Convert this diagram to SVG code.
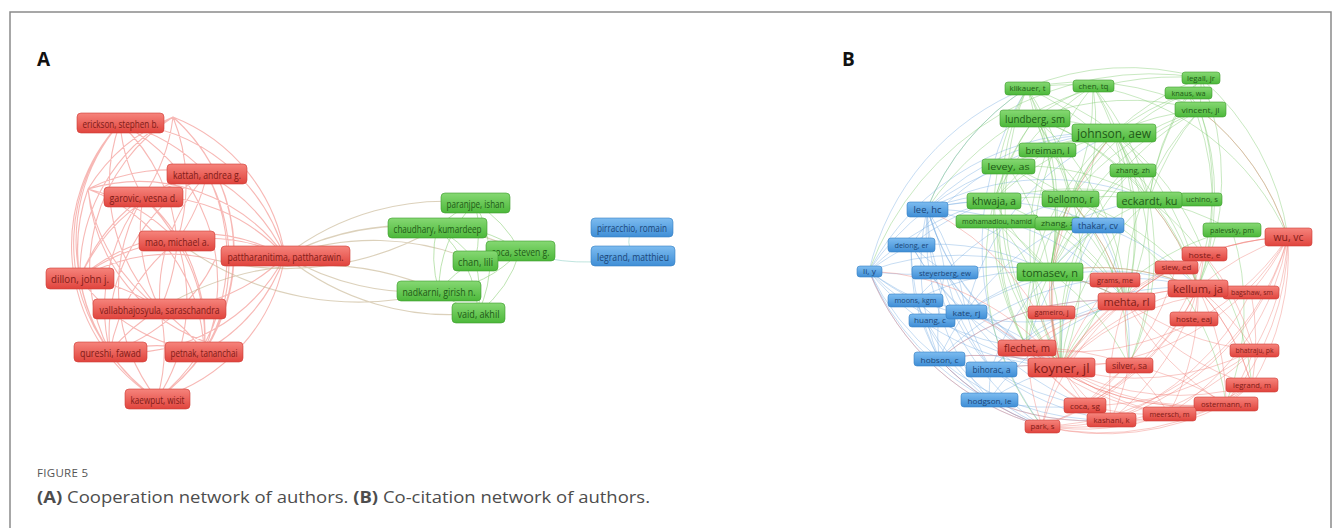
<svg xmlns="http://www.w3.org/2000/svg" width="1336" height="528" viewBox="0 0 1336 528">
<defs>
<linearGradient id="gr" x1="0" y1="0" x2="0" y2="1"><stop offset="0" stop-color="#f6847c"/><stop offset="1" stop-color="#e0443d"/></linearGradient>
<linearGradient id="gg" x1="0" y1="0" x2="0" y2="1"><stop offset="0" stop-color="#86d873"/><stop offset="1" stop-color="#4cb83a"/></linearGradient>
<linearGradient id="gb" x1="0" y1="0" x2="0" y2="1"><stop offset="0" stop-color="#7dbcf0"/><stop offset="1" stop-color="#3f8ed6"/></linearGradient>
</defs>
<style>
text{font-family:"Open Sans","Liberation Sans",sans-serif}
.node text{text-anchor:middle;dominant-baseline:central}
.red rect{fill:url(#gr);stroke:#cf3d37;stroke-width:.6}
.red text{fill:#801b17}
.green rect{fill:url(#gg);stroke:#3d9c2e;stroke-width:.6}
.green text{fill:#1f5a17}
.blue rect{fill:url(#gb);stroke:#367fc2;stroke-width:.6}
.blue text{fill:#1b4678}
.a text{font-size:11px}
.e{fill:none}
.er{stroke:#f07d78;stroke-width:1.1;stroke-opacity:.55}
.eo{stroke:#c4b38e;stroke-width:1.1;stroke-opacity:.6}
.eg{stroke:#92d27f;stroke-width:1;stroke-opacity:.6}
.et{stroke:#a4d8d0;stroke-width:1;stroke-opacity:.7}
.bb{stroke:#74a9e2;stroke-width:.8;stroke-opacity:.5}
.bg{stroke:#78c766;stroke-width:.8;stroke-opacity:.5}
.br{stroke:#ef7a74;stroke-width:.8;stroke-opacity:.5}
</style>
<rect x="0" y="0" width="1336" height="528" fill="#fff"/>
<path d="M10 530 V12 H1331 V530" fill="none" stroke="#8a8a8a" stroke-width="1.5"/>
<text x="37" y="66" font-family="Liberation Sans,Arial,sans-serif" font-weight="700" font-size="19" fill="#111">A</text>
<text x="842" y="66" font-family="Liberation Sans,Arial,sans-serif" font-weight="700" font-size="19" fill="#111">B</text>

<g id="connectors">
<path class="e er" d="M120 123 A180 180 0 0 1 207 174 M120 123 A180 180 0 0 0 143 197 M120 123 A180 180 0 0 1 177 241 M120 123 A180 180 0 0 1 285 256 M120 123 A180 180 0 0 0 80 278 M120 123 A180 180 0 0 0 160 309 M120 123 A180 180 0 0 0 110 352 M120 123 A180 180 0 0 1 204 352 M120 123 A180 180 0 0 0 157 399
M207 174 A180 180 0 0 0 143 197 M207 174 A180 180 0 0 1 177 241 M207 174 A180 180 0 0 1 285 256 M207 174 A180 180 0 0 0 80 278 M207 174 A180 180 0 0 0 160 309 M207 174 A180 180 0 0 0 110 352 M207 174 A180 180 0 0 1 204 352 M207 174 A180 180 0 0 1 157 399
M143 197 A180 180 0 0 1 177 241 M143 197 A180 180 0 0 1 285 256 M143 197 A180 180 0 0 0 80 278 M143 197 A180 180 0 0 0 160 309 M143 197 A180 180 0 0 0 110 352 M143 197 A180 180 0 0 1 204 352 M143 197 A180 180 0 0 0 157 399
M177 241 A180 180 0 0 1 285 256 M177 241 A180 180 0 0 0 80 278 M177 241 A180 180 0 0 1 160 309 M177 241 A180 180 0 0 0 110 352 M177 241 A180 180 0 0 1 204 352 M177 241 A180 180 0 0 1 157 399
M285 256 A180 180 0 0 0 80 278 M285 256 A180 180 0 0 1 160 309 M285 256 A180 180 0 0 1 110 352 M285 256 A180 180 0 0 1 204 352 M285 256 A180 180 0 0 1 157 399
M80 278 A180 180 0 0 1 160 309 M80 278 A180 180 0 0 0 110 352 M80 278 A180 180 0 0 0 204 352 M80 278 A180 180 0 0 0 157 399
M160 309 A180 180 0 0 0 110 352 M160 309 A180 180 0 0 1 204 352 M160 309 A180 180 0 0 1 157 399
M110 352 A180 180 0 0 1 204 352 M110 352 A180 180 0 0 0 157 399 M204 352 A180 180 0 0 1 157 399
M173 117 A180 180 0 0 1 285 256 M173 117 A180 180 0 0 0 88 189 M173 117 A180 180 0 0 1 204 352 M173 117 A180 180 0 0 0 80 278 M173 117 A180 180 0 0 1 157 399 M173 117 A180 180 0 0 0 110 352 M173 117 A180 180 0 0 1 143 197 M173 117 A180 180 0 0 1 177 241
M88 189 A180 180 0 0 0 157 399 M88 189 A180 180 0 0 1 285 256 M88 189 A180 180 0 0 0 110 352 M88 189 A180 180 0 0 1 204 352 M88 189 A180 180 0 0 1 207 174 M88 189 A180 180 0 0 1 177 241 M88 189 A180 180 0 0 0 160 309
M215 345 A180 180 0 0 0 285 256 M215 345 A180 180 0 0 1 88 189 M215 260 A180 180 0 0 1 110 352 M215 260 A180 180 0 0 0 80 278"/>
<path class="e eo" d="M285 256 A260 260 0 0 1 437 228 M285 256 A260 260 0 0 0 439 291 M285 256 A260 260 0 0 1 475 261 M285 256 A260 260 0 0 0 478 313 M285 256 A260 260 0 0 1 520 251 M285 256 A260 260 0 0 1 475 203 M177 241 A300 300 0 0 0 439 291 M160 309 A300 300 0 0 1 439 291 M215 260 A300 300 0 0 0 437 228"/>
<path class="e eg" d="M475 203 A120 120 0 0 0 437 228 M475 203 A120 120 0 0 1 520 251 M475 203 A120 120 0 0 1 475 261 M475 203 A120 120 0 0 0 439 291 M475 203 A120 120 0 0 1 478 313 M437 228 A120 120 0 0 1 520 251 M437 228 A120 120 0 0 1 475 261 M437 228 A120 120 0 0 0 439 291 M437 228 A120 120 0 0 1 478 313 M520 251 A120 120 0 0 1 475 261 M520 251 A120 120 0 0 1 439 291 M520 251 A120 120 0 0 1 478 313 M475 261 A120 120 0 0 0 439 291 M475 261 A120 120 0 0 1 478 313 M439 291 A120 120 0 0 0 478 313"/>
<path class="e et" d="M520 251 A200 200 0 0 0 633 256 M632 228 A30 30 0 0 0 633 256"/>

<path class="e bb" d="M927 209 A260 260 0 0 0 1061 367 M927 209 A260 260 0 0 1 1050 272 M927 209 A260 260 0 0 1 994 201 M927 209 A260 260 0 0 0 991 369 M927 209 A260 260 0 0 0 939 359 M927 209 A260 260 0 0 0 869 271 M927 209 A260 260 0 0 1 945 272 M927 209 A260 260 0 0 1 966 312 M927 209 A260 260 0 0 0 989 400 M927 209 A260 260 0 0 1 1114 133 M927 209 A260 260 0 0 1 1008 166 M927 209 A260 260 0 0 0 1042 426 M927 209 A260 260 0 0 1 1126 301 M927 209 A260 260 0 0 1 1027 88
M869 271 A260 260 0 0 1 911 245 M869 271 A260 260 0 0 0 945 272 M869 271 A260 260 0 0 0 915 300 M869 271 A260 260 0 0 0 939 359 M869 271 A260 260 0 0 0 989 400 M869 271 A260 260 0 0 0 1061 367 M869 271 A260 260 0 0 1 1027 88 M869 271 A260 260 0 0 0 1042 426 M869 271 A260 260 0 0 1 1114 133 M869 271 A260 260 0 0 0 1126 301 M869 271 A260 260 0 0 1 1050 272
M911 245 A260 260 0 0 0 945 272 M911 245 A260 260 0 0 0 915 300 M911 245 A260 260 0 0 0 966 312 M911 245 A260 260 0 0 0 1061 367 M911 245 A260 260 0 0 0 939 359 M911 245 A260 260 0 0 1 1050 272 M911 245 A260 260 0 0 1 1114 133
M945 272 A260 260 0 0 0 915 300 M945 272 A260 260 0 0 1 966 312 M945 272 A260 260 0 0 0 939 359 M945 272 A260 260 0 0 0 991 369 M945 272 A260 260 0 0 0 1061 367 M945 272 A260 260 0 0 1 1050 272 M945 272 A260 260 0 0 1 1126 301
M915 300 A260 260 0 0 1 966 312 M915 300 A260 260 0 0 0 939 359 M915 300 A260 260 0 0 0 1061 367 M915 300 A260 260 0 0 0 989 400
M966 312 A260 260 0 0 0 939 359 M966 312 A260 260 0 0 0 991 369 M966 312 A260 260 0 0 1 1061 367 M966 312 A260 260 0 0 1 1050 272 M966 312 A260 260 0 0 1 1114 133 M966 312 A260 260 0 0 1 1198 288
M939 359 A260 260 0 0 0 991 369 M939 359 A260 260 0 0 0 989 400 M939 359 A260 260 0 0 1 1061 367 M939 359 A260 260 0 0 1 1126 301 M939 359 A260 260 0 0 1 1198 288 M939 359 A260 260 0 0 0 1042 426
M991 369 A260 260 0 0 1 1061 367 M991 369 A260 260 0 0 1 1198 288 M991 369 A260 260 0 0 1 1126 301 M991 369 A260 260 0 0 0 989 400 M991 369 A260 260 0 0 0 1111 420 M991 369 A260 260 0 0 0 1085 405
M989 400 A260 260 0 0 0 1042 426 M989 400 A260 260 0 0 1 1061 367 M989 400 A260 260 0 0 0 1111 420 M989 400 A260 260 0 0 1 1126 301
M1098 225 A260 260 0 0 0 1061 367 M1098 225 A260 260 0 0 1 1198 288 M1098 225 A260 260 0 0 0 1050 272 M1098 225 A260 260 0 0 0 927 209
M927 209 A260 260 0 0 1 1070 199 M927 209 A260 260 0 0 1 1149 200 M927 209 A260 260 0 0 0 1027 348 M911 245 A260 260 0 0 1 994 201 M945 272 A260 260 0 0 1 1070 199 M945 272 A260 260 0 0 0 1027 348 M966 312 A260 260 0 0 1 1149 200 M966 312 A260 260 0 0 0 1085 405 M939 359 A260 260 0 0 0 1111 420 M991 369 A260 260 0 0 1 1050 272 M989 400 A260 260 0 0 0 1085 405 M869 271 A260 260 0 0 0 1027 348 M869 271 A260 260 0 0 1 994 201 M915 300 A260 260 0 0 1 1050 272 M915 300 A260 260 0 0 0 1042 426 M1098 225 A260 260 0 0 0 1027 348 M1098 225 A260 260 0 0 1 1129 365 M1027 88 A300 300 0 0 0 1042 426"/>

<path class="e bg" d="M1027 88 A260 260 0 0 1 1035 118 M1027 88 A260 260 0 0 1 1114 133 M1027 88 A260 260 0 0 0 1008 166 M1027 88 A260 260 0 0 0 994 201 M1027 88 A260 260 0 0 1 1050 272 M1027 88 A260 260 0 0 1 1093 86 M1027 88 A260 260 0 0 1 1200 110 M1027 88 A260 260 0 0 1 1149 200 M1027 88 A260 260 0 0 1 1070 199 M1027 88 A260 260 0 0 1 1047 150 M1027 88 A260 260 0 0 0 927 209
M1093 86 A260 260 0 0 1 1114 133 M1093 86 A260 260 0 0 0 1035 118 M1093 86 A260 260 0 0 1 1070 199 M1093 86 A260 260 0 0 1 1149 200 M1093 86 A260 260 0 0 1 1050 272 M1093 86 A260 260 0 0 0 994 201 M1093 86 A260 260 0 0 1 1288 237
M1201 78 A260 260 0 0 1 1200 110 M1201 78 A260 260 0 0 0 1188 93 M1201 78 A260 260 0 0 0 1114 133 M1201 78 A260 260 0 0 0 1149 200 M1201 78 A260 260 0 0 1 1198 288 M1201 78 A260 260 0 0 1 1288 237 M1201 78 A260 260 0 0 0 1027 88
M1188 93 A260 260 0 0 1 1200 110 M1188 93 A260 260 0 0 0 1114 133 M1188 93 A260 260 0 0 0 1149 200 M1188 93 A260 260 0 0 0 1070 199
M1200 110 A260 260 0 0 0 1114 133 M1200 110 A260 260 0 0 0 1149 200 M1200 110 A260 260 0 0 0 1070 199 M1200 110 A260 260 0 0 1 1198 288 M1200 110 A260 260 0 0 1 1204 254 M1200 110 A260 260 0 0 1 1288 237 M1200 110 A260 260 0 0 0 1050 272 M1200 110 A260 260 0 0 0 1035 118
M1035 118 A260 260 0 0 1 1114 133 M1035 118 A260 260 0 0 1 1047 150 M1035 118 A260 260 0 0 1 1050 272 M1035 118 A260 260 0 0 0 994 201 M1035 118 A260 260 0 0 0 1008 166 M1035 118 A260 260 0 0 1 1070 199 M1035 118 A260 260 0 0 1 1149 200 M1035 118 A260 260 0 0 1 1061 367
M1114 133 A260 260 0 0 0 1050 272 M1114 133 A260 260 0 0 1 1149 200 M1114 133 A260 260 0 0 0 1070 199 M1114 133 A260 260 0 0 0 994 201 M1114 133 A260 260 0 0 0 1008 166 M1114 133 A260 260 0 0 0 1047 150 M1114 133 A260 260 0 0 1 1061 367 M1114 133 A260 260 0 0 1 1126 301 M1114 133 A260 260 0 0 1 1198 288 M1114 133 A260 260 0 0 1 1133 170
M1047 150 A260 260 0 0 1 1050 272 M1047 150 A260 260 0 0 0 994 201
M1008 166 A260 260 0 0 1 1149 200 M1008 166 A260 260 0 0 0 994 201 M1008 166 A260 260 0 0 1 1070 199 M1008 166 A260 260 0 0 0 1061 367 M1008 166 A260 260 0 0 1 1126 301 M1008 166 A260 260 0 0 1 1050 272
M994 201 A260 260 0 0 0 1050 272 M994 201 A260 260 0 0 1 1070 199 M994 201 A260 260 0 0 1 1149 200 M994 201 A260 260 0 0 0 1061 367 M994 201 A260 260 0 0 1 1126 301
M1070 199 A260 260 0 0 1 1149 200 M1070 199 A260 260 0 0 0 1061 367 M1070 199 A260 260 0 0 1 1198 288 M1070 199 A260 260 0 0 1 1126 301 M1070 199 A260 260 0 0 0 1050 272
M1149 200 A260 260 0 0 0 1061 367 M1149 200 A260 260 0 0 1 1126 301 M1149 200 A260 260 0 0 0 1050 272 M1149 200 A260 260 0 0 1 1198 288 M1149 200 A260 260 0 0 1 1232 230
M1050 272 A260 260 0 0 1 1061 367 M1050 272 A260 260 0 0 1 1126 301 M1133 170 A260 260 0 0 0 1050 272 M1133 170 A260 260 0 0 0 1061 367 M997 221 A260 260 0 0 1 1050 272 M997 221 A260 260 0 0 1 1061 367
M1035 118 A260 260 0 0 1 1126 301 M1035 118 A260 260 0 0 1 1198 288 M1008 166 A260 260 0 0 0 1027 348 M994 201 A260 260 0 0 0 1027 348 M994 201 A260 260 0 0 0 1042 426 M1070 199 A260 260 0 0 0 1027 348 M1070 199 A260 260 0 0 1 1129 365 M1070 199 A260 260 0 0 1 1226 404 M1149 200 A260 260 0 0 1 1129 365 M1149 200 A260 260 0 0 1 1252 385 M1114 133 A260 260 0 0 1 1204 254 M1114 133 A260 260 0 0 1 1129 365 M1114 133 A260 260 0 0 0 1027 348 M1047 150 A260 260 0 0 1 1126 301 M1047 150 A260 260 0 0 0 1061 367 M1050 272 A260 260 0 0 1 1198 288 M1050 272 A260 260 0 0 0 1027 348 M1050 272 A260 260 0 0 1 1129 365 M1027 88 A260 260 0 0 0 1061 367 M1093 86 A260 260 0 0 1 1126 301 M1093 86 A260 260 0 0 0 1061 367 M1200 110 A260 260 0 0 0 1126 301 M1200 110 A260 260 0 0 0 1061 367 M1188 93 A260 260 0 0 1 1198 288 M1057 223 A260 260 0 0 1 1126 301 M997 221 A260 260 0 0 0 1027 348 M1133 170 A260 260 0 0 1 1198 288 M1232 230 A260 260 0 0 0 1061 367 M1232 230 A260 260 0 0 1 1226 404 M869 271 A300 300 0 0 1 1201 78 M927 209 A300 300 0 0 1 1201 78"/>

<path class="e br" d="M1288 237 A260 260 0 0 0 1198 288 M1288 237 A260 260 0 0 1 1061 367 M1288 237 A260 260 0 0 0 1126 301 M1288 237 A260 260 0 0 0 1204 254 M1288 237 A260 260 0 0 1 1251 292 M1288 237 A260 260 0 0 1 1254 350 M1288 237 A260 260 0 0 1 1252 385 M1288 237 A260 260 0 0 1 1226 404 M1288 237 A260 260 0 0 0 1176 267 M1288 237 A260 260 0 0 1 1042 426 M1288 237 A260 260 0 0 0 1200 110 M1288 237 A260 260 0 0 1 1027 348
M1061 367 A260 260 0 0 1 1126 301 M1061 367 A260 260 0 0 1 1198 288 M1061 367 A260 260 0 0 1 1129 365 M1061 367 A260 260 0 0 1 1027 348 M1061 367 A260 260 0 0 0 1085 405 M1061 367 A260 260 0 0 0 1111 420 M1061 367 A260 260 0 0 0 1042 426 M1061 367 A260 260 0 0 0 1169 414 M1061 367 A260 260 0 0 0 1226 404 M1061 367 A260 260 0 0 0 1252 385 M1061 367 A260 260 0 0 0 1254 350 M1061 367 A260 260 0 0 1 1204 254 M1061 367 A260 260 0 0 1 1176 267 M1061 367 A260 260 0 0 1 1115 280 M1061 367 A260 260 0 0 1 1051 312 M1061 367 A260 260 0 0 1 1251 292
M1126 301 A260 260 0 0 1 1198 288 M1126 301 A260 260 0 0 1 1204 254 M1126 301 A260 260 0 0 1 1176 267 M1126 301 A260 260 0 0 0 1226 404 M1126 301 A260 260 0 0 1 1251 292 M1126 301 A260 260 0 0 0 1252 385 M1126 301 A260 260 0 0 0 1254 350 M1126 301 A260 260 0 0 0 1111 420 M1126 301 A260 260 0 0 0 1042 426 M1126 301 A260 260 0 0 0 1027 348 M1126 301 A260 260 0 0 0 1129 365
M1198 288 A260 260 0 0 0 1204 254 M1198 288 A260 260 0 0 1 1251 292 M1198 288 A260 260 0 0 1 1226 404 M1198 288 A260 260 0 0 1 1252 385 M1198 288 A260 260 0 0 1 1254 350 M1198 288 A260 260 0 0 1 1194 319 M1198 288 A260 260 0 0 1 1111 420 M1198 288 A260 260 0 0 1 1085 405 M1198 288 A260 260 0 0 1 1169 414 M1198 288 A260 260 0 0 1 1042 426
M1027 348 A260 260 0 0 0 1042 426 M1027 348 A260 260 0 0 0 1111 420 M1027 348 A260 260 0 0 0 1085 405 M1027 348 A260 260 0 0 1 1129 365 M1027 348 A260 260 0 0 0 1226 404 M1027 348 A260 260 0 0 0 1169 414
M1129 365 A260 260 0 0 1 1111 420 M1129 365 A260 260 0 0 0 1085 405 M1129 365 A260 260 0 0 1 1226 404 M1129 365 A260 260 0 0 1 1169 414
M1226 404 A260 260 0 0 0 1252 385 M1226 404 A260 260 0 0 0 1254 350 M1226 404 A260 260 0 0 1 1042 426 M1226 404 A260 260 0 0 1 1111 420 M1226 404 A260 260 0 0 1 1085 405
M1252 385 A260 260 0 0 1 1042 426 M1252 385 A260 260 0 0 0 1251 292 M1252 385 A260 260 0 0 1 1111 420 M1254 350 A260 260 0 0 1 1042 426 M1254 350 A260 260 0 0 1 1085 405
M1042 426 A260 260 0 0 0 1169 414 M1042 426 A260 260 0 0 0 1111 420 M1061 367 A260 260 0 0 0 927 209 M1061 367 A260 260 0 0 0 869 271 M1126 301 A260 260 0 0 0 939 359
M1061 367 A260 260 0 0 1 1050 272 M1061 367 A260 260 0 0 1 1070 199 M1061 367 A260 260 0 0 1 1114 133 M1061 367 A260 260 0 0 0 991 369 M1061 367 A260 260 0 0 0 939 359 M1126 301 A260 260 0 0 0 1050 272 M1126 301 A260 260 0 0 0 1070 199 M1198 288 A260 260 0 0 0 1149 200 M1198 288 A260 260 0 0 0 1050 272 M1027 348 A260 260 0 0 0 966 312 M1042 426 A260 260 0 0 1 939 359 M1042 426 A260 260 0 0 1 869 271 M1111 420 A260 260 0 0 1 989 400 M1226 404 A260 260 0 0 1 1027 348 M1252 385 A260 260 0 0 0 1198 288 M1254 350 A260 260 0 0 0 1204 254 M1288 237 A260 260 0 0 1 1111 420 M1288 237 A260 260 0 0 1 1169 414 M1251 292 A260 260 0 0 1 1111 420 M1204 254 A260 260 0 0 1 1042 426 M1176 267 A260 260 0 0 1 1085 405"/>
</g>

<g class="a">
<g id="n-erickson" class="node red"><rect x="77" y="113" width="87" height="20" rx="4"/><text x="120.5" y="123" textLength="76" lengthAdjust="spacingAndGlyphs">erickson, stephen b.</text></g>
<g id="n-kattah" class="node red"><rect x="167" y="164" width="80" height="20" rx="4"/><text x="207" y="174" textLength="68" lengthAdjust="spacingAndGlyphs">kattah, andrea g.</text></g>
<g id="n-garovic" class="node red"><rect x="104" y="187" width="79" height="20" rx="4"/><text x="143.5" y="197" textLength="68" lengthAdjust="spacingAndGlyphs">garovic, vesna d.</text></g>
<g id="n-mao" class="node red"><rect x="139" y="231" width="76" height="20" rx="4"/><text x="177" y="241" textLength="64" lengthAdjust="spacingAndGlyphs">mao, michael a.</text></g>
<g id="n-pattharanitima" class="node red"><rect x="221" y="246" width="129" height="20" rx="4"/><text x="285.5" y="256" textLength="116" lengthAdjust="spacingAndGlyphs">pattharanitima, pattharawin.</text></g>
<g id="n-dillon" class="node red"><rect x="46" y="268" width="68" height="21" rx="4"/><text x="80" y="278.5" textLength="58" lengthAdjust="spacingAndGlyphs">dillon, john j.</text></g>
<g id="n-vallabhajosyula" class="node red"><rect x="93" y="299" width="133" height="20" rx="4"/><text x="159.5" y="309" textLength="120" lengthAdjust="spacingAndGlyphs">vallabhajosyula, saraschandra</text></g>
<g id="n-qureshi" class="node red"><rect x="74" y="342" width="73" height="20" rx="4"/><text x="110.5" y="352" textLength="61" lengthAdjust="spacingAndGlyphs">qureshi, fawad</text></g>
<g id="n-petnak" class="node red"><rect x="165" y="342" width="78" height="20" rx="4"/><text x="204" y="352" textLength="67" lengthAdjust="spacingAndGlyphs">petnak, tananchai</text></g>
<g id="n-kaewput" class="node red"><rect x="125" y="389" width="65" height="20" rx="4"/><text x="157.5" y="399" textLength="54" lengthAdjust="spacingAndGlyphs">kaewput, wisit</text></g>
<g id="n-paranjpe" class="node green"><rect x="441" y="193" width="69" height="20" rx="4"/><text x="475.5" y="203" textLength="58" lengthAdjust="spacingAndGlyphs">paranjpe, ishan</text></g>
<g id="n-chaudhary" class="node green"><rect x="388" y="218" width="99" height="20" rx="4"/><text x="437.5" y="228" textLength="88" lengthAdjust="spacingAndGlyphs">chaudhary, kumardeep</text></g>
<g id="n-coca-a" class="node green"><rect x="486" y="241" width="69" height="20" rx="4"/><text x="520.5" y="251" textLength="58" lengthAdjust="spacingAndGlyphs">coca, steven g.</text></g>
<g id="n-chan" class="node green"><rect x="453" y="251" width="45" height="20" rx="4"/><text x="475.5" y="261" textLength="35" lengthAdjust="spacingAndGlyphs">chan, lili</text></g>
<g id="n-nadkarni" class="node green"><rect x="397" y="281" width="84" height="20" rx="4"/><text x="439" y="291" textLength="73" lengthAdjust="spacingAndGlyphs">nadkarni, girish n.</text></g>
<g id="n-vaid" class="node green"><rect x="452" y="303" width="53" height="20" rx="4"/><text x="478.5" y="313" textLength="42" lengthAdjust="spacingAndGlyphs">vaid, akhil</text></g>
<g id="n-pirracchio" class="node blue"><rect x="591" y="218" width="82" height="19" rx="4"/><text x="632" y="227.5" textLength="70" lengthAdjust="spacingAndGlyphs">pirracchio, romain</text></g>
<g id="n-legrand-a" class="node blue"><rect x="591" y="246" width="84" height="20" rx="4"/><text x="633" y="256" textLength="72" lengthAdjust="spacingAndGlyphs">legrand, matthieu</text></g>
</g>

<g class="b">
<g id="n-klikauer" class="node green"><rect x="1005" y="82" width="45" height="13" rx="3"/><text x="1027.5" y="88.5" font-size="7" textLength="36" lengthAdjust="spacingAndGlyphs">klikauer, t</text></g>
<g id="n-chen" class="node green"><rect x="1073" y="80" width="41" height="12" rx="3"/><text x="1093.5" y="86" font-size="7" textLength="30" lengthAdjust="spacingAndGlyphs">chen, tq</text></g>
<g id="n-legall" class="node green"><rect x="1182" y="72" width="38" height="12" rx="3"/><text x="1201" y="78" font-size="7" textLength="28" lengthAdjust="spacingAndGlyphs">legall, jr</text></g>
<g id="n-knaus" class="node green"><rect x="1165" y="87" width="47" height="12" rx="3"/><text x="1188.5" y="93" font-size="7" textLength="34" lengthAdjust="spacingAndGlyphs">knaus, wa</text></g>
<g id="n-vincent" class="node green"><rect x="1175" y="102" width="51" height="15" rx="3"/><text x="1200.5" y="109.5" font-size="8" textLength="38" lengthAdjust="spacingAndGlyphs">vincent, jl</text></g>
<g id="n-lundberg" class="node green"><rect x="1000" y="110" width="70" height="17" rx="3"/><text x="1035" y="118.5" font-size="10.5" textLength="60" lengthAdjust="spacingAndGlyphs">lundberg, sm</text></g>
<g id="n-johnson" class="node green"><rect x="1072" y="124" width="84" height="18" rx="3"/><text x="1114" y="133" font-size="12" textLength="74" lengthAdjust="spacingAndGlyphs">johnson, aew</text></g>
<g id="n-breiman" class="node green"><rect x="1019" y="143" width="57" height="14" rx="3"/><text x="1047.5" y="150" font-size="9" textLength="44" lengthAdjust="spacingAndGlyphs">breiman, l</text></g>
<g id="n-levey" class="node green"><rect x="982" y="159" width="53" height="15" rx="3"/><text x="1008.5" y="166.5" font-size="9.5" textLength="42" lengthAdjust="spacingAndGlyphs">levey, as</text></g>
<g id="n-zhang-zh" class="node green"><rect x="1110" y="164" width="46" height="13" rx="3"/><text x="1133" y="170.5" font-size="7" textLength="34" lengthAdjust="spacingAndGlyphs">zhang, zh</text></g>
<g id="n-khwaja" class="node green"><rect x="967" y="193" width="54" height="16" rx="3"/><text x="994" y="201" font-size="10.5" textLength="44" lengthAdjust="spacingAndGlyphs">khwaja, a</text></g>
<g id="n-bellomo" class="node green"><rect x="1042" y="191" width="57" height="16" rx="3"/><text x="1070.5" y="199" font-size="10" textLength="46" lengthAdjust="spacingAndGlyphs">bellomo, r</text></g>
<g id="n-uchino" class="node green"><rect x="1180" y="193" width="42" height="13" rx="3"/><text x="1202" y="199.5" font-size="7" textLength="32" lengthAdjust="spacingAndGlyphs">uchino, s</text></g>
<g id="n-eckardt" class="node green"><rect x="1117" y="192" width="65" height="16" rx="3"/><text x="1149.5" y="200" font-size="11" textLength="56" lengthAdjust="spacingAndGlyphs">eckardt, ku</text></g>
<g id="n-mohamadlou" class="node green"><rect x="956" y="215" width="82" height="13" rx="3"/><text x="997" y="221.5" font-size="7" textLength="70" lengthAdjust="spacingAndGlyphs">mohamadlou, hamid</text></g>
<g id="n-zhang-z" class="node green"><rect x="1035" y="217" width="45" height="13" rx="3"/><text x="1057.5" y="223.5" font-size="7" textLength="33" lengthAdjust="spacingAndGlyphs">zhang, z</text></g>
<g id="n-palevsky" class="node green"><rect x="1203" y="223" width="58" height="14" rx="3"/><text x="1232" y="230" font-size="7.5" textLength="44" lengthAdjust="spacingAndGlyphs">palevsky, pm</text></g>
<g id="n-tomasev" class="node green"><rect x="1017" y="263" width="66" height="18" rx="3"/><text x="1050" y="272" font-size="11" textLength="56" lengthAdjust="spacingAndGlyphs">tomasev, n</text></g>

<g id="n-lee" class="node blue"><rect x="907" y="202" width="41" height="15" rx="3"/><text x="927.5" y="209.5" font-size="9" textLength="28" lengthAdjust="spacingAndGlyphs">lee, hc</text></g>
<g id="n-thakar" class="node blue"><rect x="1072" y="218" width="52" height="15" rx="3"/><text x="1098" y="225.5" font-size="8.5" textLength="40" lengthAdjust="spacingAndGlyphs">thakar, cv</text></g>
<g id="n-delong" class="node blue"><rect x="888" y="238" width="47" height="14" rx="3"/><text x="911.5" y="245" font-size="7.5" textLength="34" lengthAdjust="spacingAndGlyphs">delong, er</text></g>
<g id="n-li" class="node blue"><rect x="857" y="266" width="25" height="11" rx="3"/><text x="869.5" y="271.5" font-size="7" textLength="13" lengthAdjust="spacingAndGlyphs">li, y</text></g>
<g id="n-steyerberg" class="node blue"><rect x="912" y="266" width="66" height="13" rx="3"/><text x="945" y="272.5" font-size="7.5" textLength="52" lengthAdjust="spacingAndGlyphs">steyerberg, ew</text></g>
<g id="n-moons" class="node blue"><rect x="888" y="294" width="55" height="13" rx="3"/><text x="915.5" y="300.5" font-size="7" textLength="42" lengthAdjust="spacingAndGlyphs">moons, kgm</text></g>
<g id="n-huang" class="node blue"><rect x="909" y="314" width="46" height="13" rx="3"/><text x="930" y="320.5" font-size="7" textLength="32" lengthAdjust="spacingAndGlyphs">huang, c</text></g>
<g id="n-kate" class="node blue"><rect x="946" y="305" width="41" height="14" rx="3"/><text x="966.5" y="312" font-size="8" textLength="28" lengthAdjust="spacingAndGlyphs">kate, rj</text></g>
<g id="n-hobson" class="node blue"><rect x="914" y="352" width="51" height="14" rx="3"/><text x="939.5" y="359" font-size="8" textLength="38" lengthAdjust="spacingAndGlyphs">hobson, c</text></g>
<g id="n-bihorac" class="node blue"><rect x="966" y="362" width="51" height="15" rx="3"/><text x="991.5" y="369.5" font-size="8.5" textLength="38" lengthAdjust="spacingAndGlyphs">bihorac, a</text></g>
<g id="n-hodgson" class="node blue"><rect x="961" y="393" width="57" height="14" rx="3"/><text x="989.5" y="400" font-size="8" textLength="44" lengthAdjust="spacingAndGlyphs">hodgson, le</text></g>

<g id="n-wu" class="node red"><rect x="1265" y="228" width="47" height="18" rx="3"/><text x="1288.5" y="237" font-size="10" textLength="30" lengthAdjust="spacingAndGlyphs">wu, vc</text></g>
<g id="n-hoste-e" class="node red"><rect x="1182" y="247" width="45" height="14" rx="3"/><text x="1204.5" y="254" font-size="8" textLength="32" lengthAdjust="spacingAndGlyphs">hoste, e</text></g>
<g id="n-siew" class="node red"><rect x="1155" y="261" width="43" height="13" rx="3"/><text x="1176.5" y="267.5" font-size="7" textLength="30" lengthAdjust="spacingAndGlyphs">siew, ed</text></g>
<g id="n-grams" class="node red"><rect x="1090" y="273" width="50" height="14" rx="3"/><text x="1115" y="280" font-size="7" textLength="36" lengthAdjust="spacingAndGlyphs">grams, me</text></g>
<g id="n-bagshaw" class="node red"><rect x="1223" y="286" width="56" height="13" rx="3"/><text x="1252" y="292.5" font-size="7" textLength="42" lengthAdjust="spacingAndGlyphs">bagshaw, sm</text></g>
<g id="n-kellum" class="node red"><rect x="1168" y="280" width="60" height="17" rx="3"/><text x="1198" y="288.5" font-size="11" textLength="50" lengthAdjust="spacingAndGlyphs">kellum, ja</text></g>
<g id="n-mehta" class="node red"><rect x="1098" y="293" width="57" height="17" rx="3"/><text x="1126.5" y="301.5" font-size="11" textLength="46" lengthAdjust="spacingAndGlyphs">mehta, rl</text></g>
<g id="n-gameiro" class="node red"><rect x="1028" y="306" width="47" height="13" rx="3"/><text x="1051.5" y="312.5" font-size="7" textLength="34" lengthAdjust="spacingAndGlyphs">gameiro, j</text></g>
<g id="n-hoste-eaj" class="node red"><rect x="1170" y="312" width="48" height="14" rx="3"/><text x="1194" y="319" font-size="7.5" textLength="36" lengthAdjust="spacingAndGlyphs">hoste, eaj</text></g>
<g id="n-bhatraju" class="node red"><rect x="1230" y="344" width="49" height="13" rx="3"/><text x="1254.5" y="350.5" font-size="7" textLength="38" lengthAdjust="spacingAndGlyphs">bhatraju, pk</text></g>
<g id="n-flechet" class="node red"><rect x="998" y="340" width="58" height="16" rx="3"/><text x="1027" y="348" font-size="10" textLength="46" lengthAdjust="spacingAndGlyphs">flechet, m</text></g>
<g id="n-koyner" class="node red"><rect x="1028" y="358" width="67" height="19" rx="3"/><text x="1061.5" y="367.5" font-size="13" textLength="56" lengthAdjust="spacingAndGlyphs">koyner, jl</text></g>
<g id="n-silver" class="node red"><rect x="1106" y="358" width="47" height="15" rx="3"/><text x="1129.5" y="365.5" font-size="8.5" textLength="35" lengthAdjust="spacingAndGlyphs">silver, sa</text></g>
<g id="n-legrand-m" class="node red"><rect x="1226" y="378" width="52" height="14" rx="3"/><text x="1252" y="385" font-size="7.5" textLength="38" lengthAdjust="spacingAndGlyphs">legrand, m</text></g>
<g id="n-ostermann" class="node red"><rect x="1194" y="397" width="64" height="14" rx="3"/><text x="1226" y="404" font-size="7.5" textLength="50" lengthAdjust="spacingAndGlyphs">ostermann, m</text></g>
<g id="n-coca-sg" class="node red"><rect x="1064" y="398" width="42" height="15" rx="3"/><text x="1085" y="405.5" font-size="7.5" textLength="30" lengthAdjust="spacingAndGlyphs">coca, sg</text></g>
<g id="n-meersch" class="node red"><rect x="1143" y="407" width="53" height="14" rx="3"/><text x="1169.5" y="414" font-size="7.5" textLength="40" lengthAdjust="spacingAndGlyphs">meersch, m</text></g>
<g id="n-kashani" class="node red"><rect x="1087" y="413" width="49" height="14" rx="3"/><text x="1111.5" y="420" font-size="7.5" textLength="36" lengthAdjust="spacingAndGlyphs">kashani, k</text></g>
<g id="n-park" class="node red"><rect x="1025" y="420" width="35" height="13" rx="3"/><text x="1042.5" y="426.5" font-size="7" textLength="24" lengthAdjust="spacingAndGlyphs">park, s</text></g>
</g>

<text x="37" y="477" font-size="11.5" fill="#555" letter-spacing=".3">FIGURE 5</text>
<text x="37" y="503" font-size="15.5" fill="#4d4d4d" textLength="613" lengthAdjust="spacingAndGlyphs"><tspan font-weight="700">(A)</tspan> Cooperation network of authors. <tspan font-weight="700">(B)</tspan> Co-citation network of authors.</text>
</svg>
